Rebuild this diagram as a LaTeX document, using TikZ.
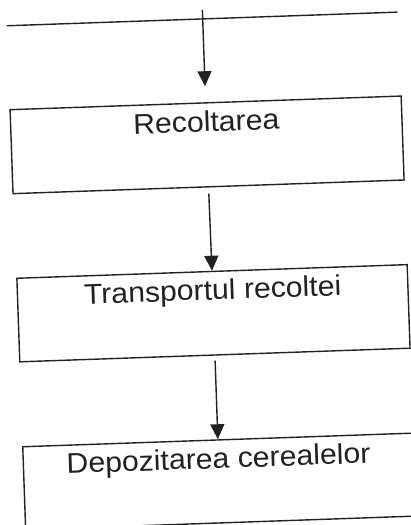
\documentclass[tikz,border=0pt]{standalone}
\usepackage{fontspec}
\setmainfont{Liberation Sans}[FakeStretch=1.06]
\usetikzlibrary{arrows.meta,calc}
\definecolor{ink}{HTML}{222222}
\begin{document}
\begin{tikzpicture}[x=1pt,y=1pt,
  rule/.style={draw=ink, line width=1.4pt},
  flow/.style={rule, -{Triangle[length=15pt,width=14pt]}},
  stagebox/.style={rule, rectangle, inner sep=0pt, transform shape},
  lbl/.style={anchor=base, inner sep=0pt, text=ink, transform shape,
    font=\fontsize{28.5}{34}\selectfont}]
\useasboundingbox (0,0) rectangle (411,525);
\clip (0,0) rectangle (411,525);
\fill[white] (0,0) rectangle (411,525);
\begin{scope}[rotate around={2:(205,262)}]
  % top line
  \coordinate (L1) at (15,506);
  \coordinate (L2) at (406,506);
  \draw[rule] (L1) -- (L2);
  % boxes
  \node[stagebox, minimum width=391.3pt, minimum height=84pt] (b1) at (211.2,380) {};
  \node[stagebox, minimum width=390.5pt, minimum height=83.6pt] (b2) at (211.7,211.5) {};
  \node[stagebox, minimum width=390.5pt, minimum height=83pt] (b3) at (211.7,43.2) {};
  % labels
  \node[lbl] (t1) at ($(b1.north)!29.5pt!(b1.south)$) {Recoltarea};
  \node[lbl] (t2) at ($(b2.north)!29pt!(b2.south)$) {Transportul recoltei};
  \node[lbl] (t3) at ($(b3.north)!29pt!(b3.south)$) {Depozitarea cerealelor};
  % arrows
  \coordinate (top) at (211.2,515);
  \draw[flow] (top) -- ($(b1.north)!16pt!(top)$);
  \draw[flow] ($(b1.south)!6pt!(b2.north)$) -- (b2.north);
  \draw[flow] ($(b2.south)!5pt!(b3.north)$) -- (b3.north);
\end{scope}
\end{tikzpicture}
\end{document}
